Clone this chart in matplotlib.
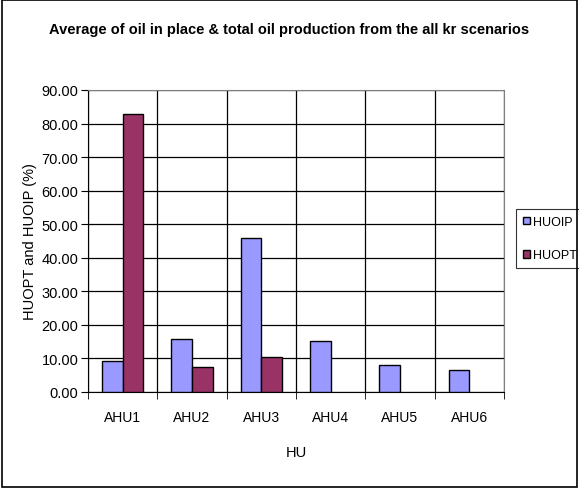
import numpy as np
import matplotlib.pyplot as plt
from matplotlib.patches import Rectangle

plt.rcParams['font.family'] = ['Liberation Sans', 'DejaVu Sans']

categories = ['AHU1', 'AHU2', 'AHU3', 'AHU4', 'AHU5', 'AHU6']
huoip = [9.3, 15.7, 46.0, 15.2, 8.0, 6.5]
huopt = [82.8, 7.5, 10.4, 0, 0, 0]

fig = plt.figure(figsize=(5.79, 4.89), dpi=100)
ax = fig.add_axes([88 / 579, 1 - 393 / 489, (504 - 88) / 579, (393 - 91) / 489])

x = np.arange(len(categories))
w = 0.296
# zero values draw nothing in the original
ip = np.where(np.array(huoip) > 0, huoip, np.nan)
pt = np.where(np.array(huopt) > 0, huopt, np.nan)
ax.bar(x - w / 2, ip, w, color='#9999ff', edgecolor='black', linewidth=1, label='HUOIP', zorder=3)
ax.bar(x + w / 2, pt, w, color='#993366', edgecolor='black', linewidth=1, label='HUOPT', zorder=3)

ax.set_xlim(-0.5, len(categories) - 0.5)
ax.set_ylim(0, 90)
ax.set_yticks(np.arange(0, 91, 10))
ax.set_yticklabels(['%.2f' % v for v in np.arange(0, 91, 10)], fontsize=10.5)
ax.set_xticks(x)
ax.set_xticklabels(categories, fontsize=10)
ax.tick_params(axis='x', length=0, pad=13)
ax.set_xticks(np.arange(-0.5, len(categories), 1), minor=True)
ax.tick_params(axis='x', which='minor', length=5, direction='out')
ax.tick_params(axis='y', length=5, direction='out', pad=2)
ax.grid(axis='y', color='black', linewidth=0.9, zorder=0)
ax.grid(axis='x', which='minor', color='black', linewidth=0.9, zorder=0)
ax.set_axisbelow(True)
for s in ['top', 'right']:
    ax.spines[s].set_color('#808080')

ax.set_xlabel('HU', fontsize=10.5, labelpad=15)
ax.set_ylabel('HUOPT and HUOIP (%)', fontsize=10.5, labelpad=3)

fig.text(0.5, 1 - 30 / 489, 'Average of oil in place & total oil production from the all kr scenarios',
         ha='center', va='center', fontsize=10.5, fontweight='bold')

leg = ax.legend(loc='upper left', bbox_to_anchor=(516 / 579, 1 - 210 / 489), bbox_transform=fig.transFigure,
                fontsize=9, frameon=True, fancybox=False, edgecolor='black', handlelength=0.6,
                handleheight=0.6, handletextpad=0.25, borderpad=0.55, labelspacing=1.7, borderaxespad=0)
leg.get_frame().set_linewidth(0.8)

fig.patches.append(Rectangle((0.003, 0.003), 0.994, 0.994, transform=fig.transFigure,
                             fill=False, edgecolor='black', linewidth=1.2))

fig.savefig('out.png', dpi=100)
